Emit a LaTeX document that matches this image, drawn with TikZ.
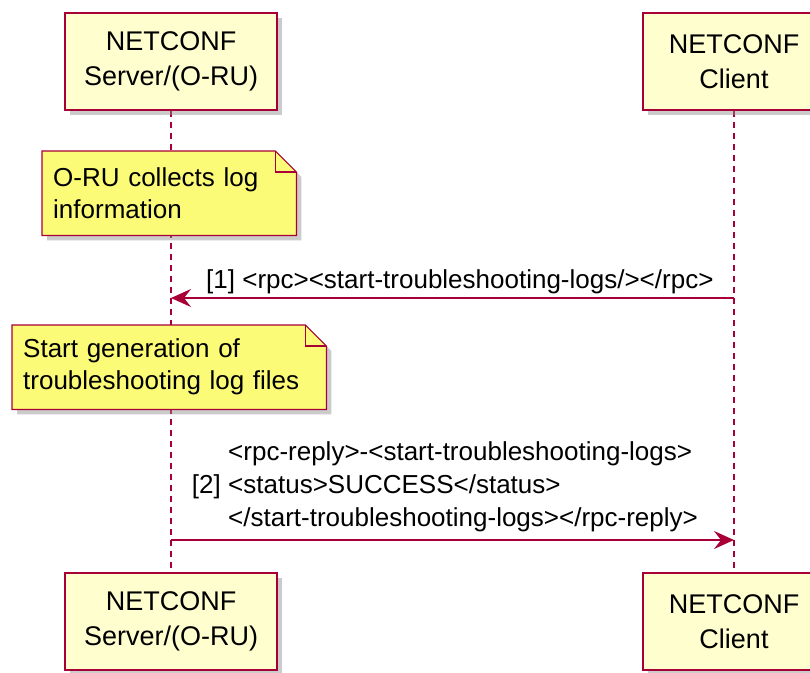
\documentclass[tikz,border=0pt]{standalone}
\usepackage{fontspec}
\setmainfont{Liberation Sans}
\usetikzlibrary{arrows.meta,shadows}
\definecolor{pu}{HTML}{A80036}
\definecolor{partfill}{HTML}{FEFECE}
\definecolor{notefill}{HTML}{FBFB77}
\pgfdeclarelayer{bg}
\pgfsetlayers{bg,main}
\begin{document}
\begin{tikzpicture}[x=1pt,y=-1pt,
  shade/.style={drop shadow={shadow xshift=5pt, shadow yshift=-5pt, fill=black!45, opacity=0.45}},
  part/.style={draw=pu, line width=1.5pt, fill=partfill, shade, minimum height=97pt,
    align=center, inner sep=0pt, font=\fontsize{27}{35}\selectfont},
  notetext/.style={inner xsep=11pt, inner ysep=0pt, align=left, minimum height=84pt,
    font=\fontsize{26}{32}\selectfont},
  notebd/.style={draw=pu, line width=1.2pt, fill=notefill, line join=miter},
  life/.style={draw=pu, line width=1.2pt, dash pattern=on 6pt off 5pt},
  msg/.style={draw=pu, line width=1.5pt, -{Stealth[length=20pt, width=18pt, inset=7pt]}},
  lbl/.style={inner sep=0pt, font=\fontsize{26}{33}\selectfont}]
\useasboundingbox (0,0) rectangle (810,672);
\clip (0,0) rectangle (810,672);
\begin{pgfonlayer}{bg}
\fill[white] (0,0) rectangle (810,672);
\end{pgfonlayer}

% participants
\node[part, minimum width=212pt] (s1) at (171,61.5) {NETCONF\\Server/(O-RU)};
\node[part, minimum width=182pt] (c1) at (734,61.5) {NETCONF\\Client};
\node[part, minimum width=212pt] (s2) at (171,621.5) {NETCONF\\Server/(O-RU)};
\node[part, minimum width=182pt] (c2) at (734,621.5) {NETCONF\\Client};

% lifelines (behind the notes)
\begin{pgfonlayer}{bg}
\draw[life] (s1.south) -- (s2.north);
\draw[life] (c1.south) -- (c2.north);
\end{pgfonlayer}

% note 1
\node[notetext, text width=232pt, anchor=north west] (n1) at (42,151) {O-RU collects log\\information};
\begin{pgfonlayer}{bg}
\path[notebd, shade] (n1.north west) -- ([xshift=-21pt]n1.north east) -- ([yshift=-21pt]n1.north east)
  -- (n1.south east) -- (n1.south west) -- cycle;
\draw[pu, line width=1.2pt] ([xshift=-21pt]n1.north east) |- ([yshift=-21pt]n1.north east);
\end{pgfonlayer}

% message 1
\coordinate (m1c) at (c1.south |- 0,298);
\coordinate (m1s) at (s1.south |- 0,298);
\draw[msg] (m1c) -- (m1s);
\node[lbl, anchor=west] (l1) at (206,282) {[1] <rpc><start-troubleshooting-logs/></rpc>};

% note 2
\node[notetext, text width=292pt, anchor=north west] (n2) at (12,325) {Start generation of\\troubleshooting log files};
\begin{pgfonlayer}{bg}
\path[notebd, shade] (n2.north west) -- ([xshift=-21pt]n2.north east) -- ([yshift=-21pt]n2.north east)
  -- (n2.south east) -- (n2.south west) -- cycle;
\draw[pu, line width=1.2pt] ([xshift=-21pt]n2.north east) |- ([yshift=-21pt]n2.north east);
\end{pgfonlayer}

% message 2
\coordinate (m2s) at (s1.south |- 0,540);
\coordinate (m2c) at (c1.south |- 0,540);
\draw[msg] (m2s) -- (m2c);
\node[lbl, anchor=east] (l2a) at (221,487) {[2]};
\node[lbl, anchor=west, align=left] (l2) at (228,487) {<rpc-reply>-<start-troubleshooting-logs>\\<status>SUCCESS</status>\\</start-troubleshooting-logs></rpc-reply>};
\end{tikzpicture}
\end{document}
